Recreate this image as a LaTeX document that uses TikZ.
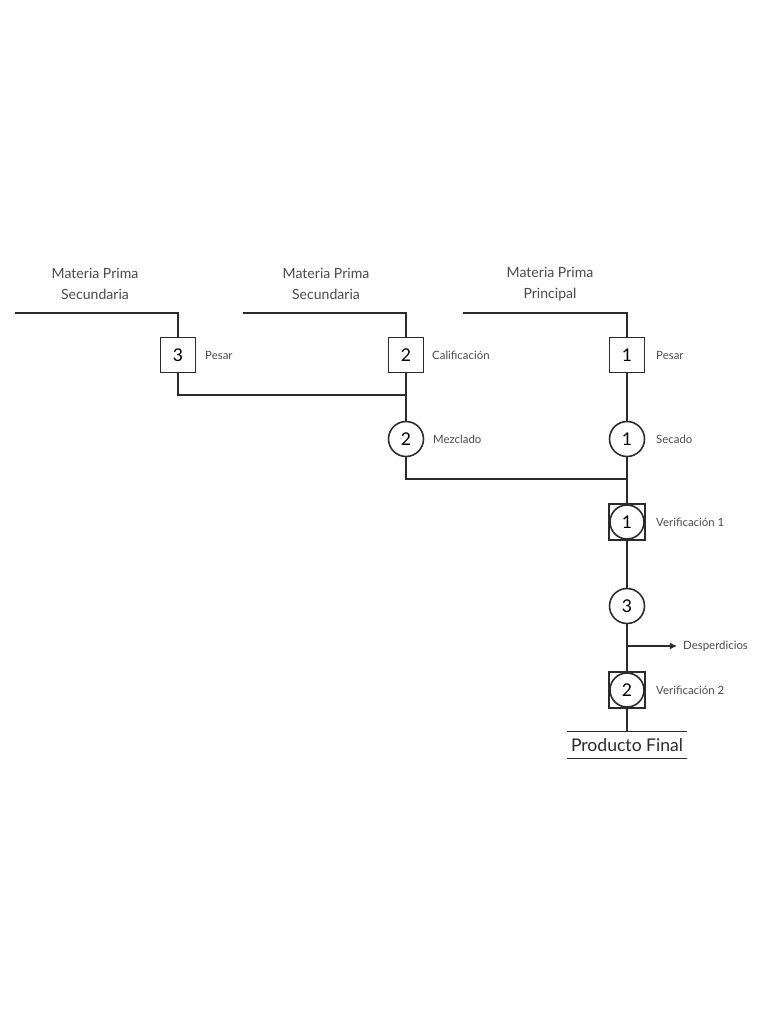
\documentclass[tikz,border=0pt]{standalone}
\usepackage{fontspec}
\setmainfont{Lato}
\usetikzlibrary{arrows.meta}
\definecolor{ink}{HTML}{2B2B2B}
\tikzset{
  opbox/.style={draw=ink, line width=0.9pt, rectangle, minimum size=0.7cm, inner sep=0pt, font=\fontsize{10}{12}\selectfont},
  opcirc/.style={draw=ink, line width=0.9pt, circle, minimum size=0.7cm, inner sep=0pt, font=\fontsize{10}{12}\selectfont},
  verif/.style={draw=ink, line width=0.9pt, rectangle, minimum size=0.72cm, inner sep=0pt, font=\fontsize{10}{12}\selectfont,
    path picture={\draw[ink, line width=0.9pt] (path picture bounding box.center) circle (0.34cm);}},
  steplabel/.style={anchor=west, text=ink!85, font=\fontsize{6.5}{8}\selectfont},
  source/.style={align=center, text=ink!85, font=\fontsize{8}{11.8}\selectfont},
  flow/.style={draw=ink, line width=0.9pt}
}
\begin{document}
\begin{tikzpicture}[x=0.02cm,y=-0.02cm]
\useasboundingbox (0,0) rectangle (768,1024);

% materias primas
\node[source] (mp3) at (95,284) {Materia Prima\\Secundaria};
\node[source] (mp2) at (326,284) {Materia Prima\\Secundaria};
\node[source] (mp1) at (550,284) {Materia Prima\\Principal};
\coordinate (in3) at (15,313);
\coordinate (in2) at (243,313);
\coordinate (in1) at (463,313);

% operaciones
\node[opbox] (b3) at (178,355) {3};
\node[opbox] (b2) at (406,355) {2};
\node[opbox] (b1) at (627,355) {1};
\node[opcirc] (c2) at (406,439) {2};
\node[opcirc] (c1) at (627,439) {1};
\node[verif] (v1) at (627,522) {1};
\node[opcirc] (c3) at (627,606) {3};
\node[verif] (v2) at (627,690) {2};
\node[minimum width=2.4cm, minimum height=0.52cm, inner sep=0pt, text=ink, font=\fontsize{10}{12}\selectfont] (pf) at (627,745) {Producto Final};

\node[steplabel] (l3) at (199,355) {Pesar};
\node[steplabel] (l2) at (426,355) {Calificación};
\node[steplabel] (l1) at (650,355) {Pesar};
\node[steplabel] (lm) at (427,439) {Mezclado};
\node[steplabel] (ls) at (650,439) {Secado};
\node[steplabel] (lv1) at (650,522) {Verificación 1};
\node[steplabel] (lv2) at (650,690) {Verificación 2};
\node[steplabel] (desp) at (677,646) {Desperdicios};

\coordinate (j2) at (406,395);
\coordinate (j1) at (627,479);
\coordinate (d0) at (627,646);

% conexiones
\draw[flow] (in3) -| (b3.north);
\draw[flow] (in2) -| (b2.north);
\draw[flow] (in1) -| (b1.north);
\draw[flow] (b3.south) |- (j2);
\draw[flow] (b2.south) -- (c2.north);
\draw[flow] (c2.south) |- (j1);
\draw[flow] (b1.south) -- (c1.north);
\draw[flow] (c1.south) -- (v1.north);
\draw[flow] (v1.south) -- (c3.north);
\draw[flow] (c3.south) -- (v2.north);
\draw[flow] (v2.south) -- (pf.north);
\draw[flow, -{Latex[length=4pt,width=4pt]}] (d0) -- (desp.west);
\draw[flow] (pf.north west) -- (pf.north east);
\draw[flow] (pf.south west) -- (pf.south east);
\end{tikzpicture}
\end{document}
